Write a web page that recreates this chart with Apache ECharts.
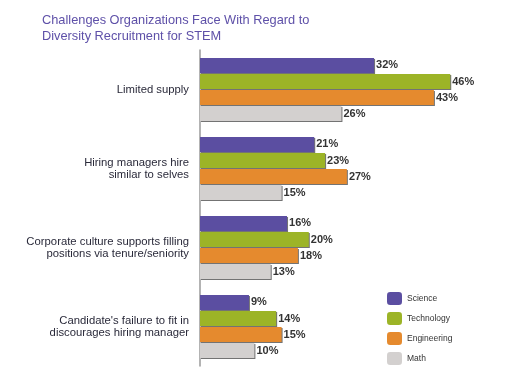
<!DOCTYPE html>
<html><head><meta charset="utf-8">
<script src="https://cdn.jsdelivr.net/npm/echarts@6/dist/echarts.min.js"></script>
<style>html,body{margin:0;padding:0;background:#fff}#c{width:514px;height:381px}</style>
</head><body><div id="c"></div>
<script>
const categories = ["Limited supply", "Hiring managers hire\nsimilar to selves", "Corporate culture supports filling\npositions via tenure/seniority", "Candidate's failure to fit in\ndiscourages hiring manager"];
const science = [32, 21, 16, 9];
const technology = [46, 23, 20, 14];
const engineering = [43, 27, 18, 15];
const math = [26, 15, 13, 10];
const seriesNames = ["Science", "Technology", "Engineering", "Math"];
const colors = ["#5b4ea1", "#9cb427", "#e58a2e", "#d3d0cf"];
const titleText = "Challenges Organizations Face With Regard to\nDiversity Recruitment for STEM";

const chart = echarts.init(document.getElementById('c'));
const data = [science, technology, engineering, math];
chart.setOption({
  animation: false,
  title: {text: titleText, left: 37, top: 7, textStyle: {color: '#5e50a8', fontSize: 12.8, fontWeight: 'normal', fontFamily: 'Liberation Sans', lineHeight: 16}},
  legend: {orient: 'vertical', left: 382, top: 287, itemWidth: 15, itemHeight: 13, itemGap: 7, icon: 'roundRect',
    textStyle: {fontSize: 8.5, color: '#333', fontFamily: 'Liberation Sans'}, data: seriesNames},
  grid: {left: 200, top: 50, width: 272, height: 316},
  xAxis: {type: 'value', min: 0, max: 50, show: false},
  yAxis: {type: 'category', inverse: true, data: categories,
    axisLine: {lineStyle: {color: '#9a9a9a', width: 1.5}},
    axisTick: {length: 5, lineStyle: {color: '#9a9a9a', width: 1.5}},
    axisLabel: {margin: 11, fontSize: 11.3, color: '#2a2a3a', fontFamily: 'Liberation Sans', lineHeight: 12, align: 'right'}},
  series: data.map((d, i) => ({
    name: seriesNames[i], type: 'bar', data: d, barWidth: 15, barGap: '7%',
    itemStyle: {color: colors[i], shadowColor: 'rgba(0,0,0,0.55)', shadowOffsetX: 1, shadowOffsetY: 1, shadowBlur: 0},
    label: {show: true, position: 'right', distance: 2, formatter: '{c}%', fontSize: 11, fontWeight: 'bold', color: '#333', fontFamily: 'Liberation Sans'}
  }))
});
</script></body></html>
